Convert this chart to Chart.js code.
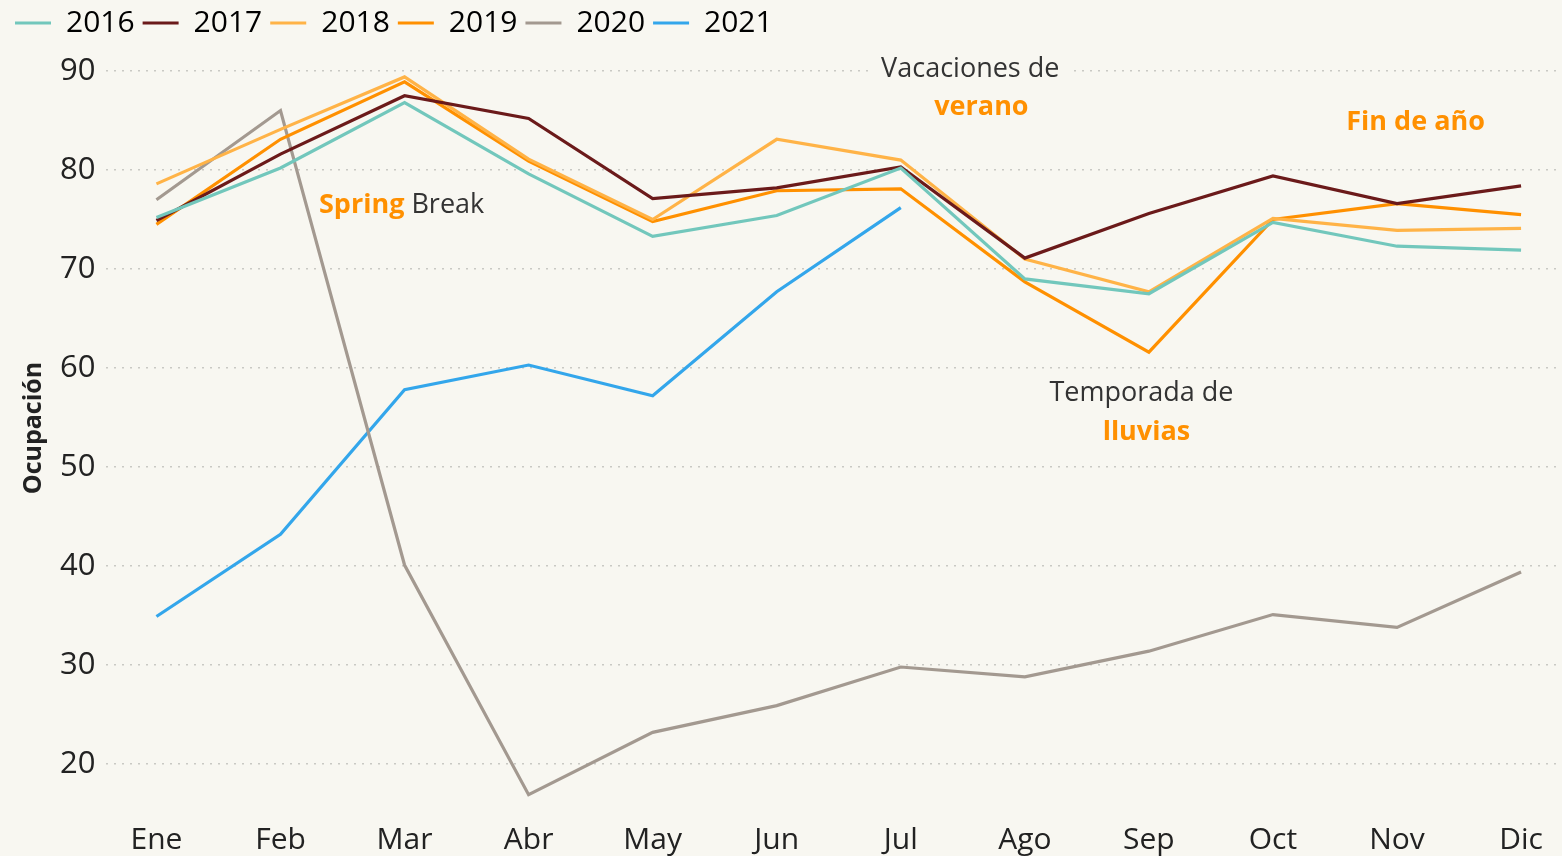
<!DOCTYPE html>
<html>
<head>
<meta charset="utf-8">
<script src="https://cdn.jsdelivr.net/npm/chart.js@4.4.1/dist/chart.umd.min.js"></script>
<style>
  html, body { margin: 0; padding: 0; background: #f8f7f1; }
  #wrap { width: 1562px; height: 856px; }
</style>
</head>
<body>
<div id="wrap"><canvas id="chart" width="1562" height="856"></canvas></div>
<script>
// data
const months = ["Ene", "Feb", "Mar", "Abr", "May", "Jun", "Jul", "Ago", "Sep", "Oct", "Nov", "Dic"];
const yTicks = [20, 30, 40, 50, 60, 70, 80, 90];

const y2016 = [75.2, 80.2, 86.8, 79.6, 73.3, 75.4, 80.2, 69.0, 67.5, 74.7, 72.3, 71.9];
const y2017 = [74.9, 81.6, 87.5, 85.2, 77.1, 78.2, 80.3, 71.1, 75.6, 79.4, 76.6, 78.4];
const y2018 = [78.6, 84.1, 89.4, 81.1, 75.0, 83.1, 81.0, 71.0, 67.7, 75.1, 73.9, 74.1];
const y2019 = [74.5, 83.1, 88.9, 80.9, 74.8, 77.9, 78.1, 68.7, 61.6, 75.0, 76.6, 75.5];
const y2020 = [77.0, 86.0, 40.1, 16.9, 23.2, 25.9, 29.8, 28.8, 31.4, 35.1, 33.8, 39.4];
const y2021 = [34.9, 43.2, 57.8, 60.3, 57.2, 67.7, 76.2];

const FONT = "'Open Sans', 'Noto Sans', sans-serif";
const ORANGE = "#ff9000";
const DARK = "#333333";

function series(label, vals, color) {
  return {
    label: label,
    data: vals.map((v, i) => ({ x: i, y: v })),
    borderColor: color,
    backgroundColor: color,
    borderWidth: 3.2,
    pointRadius: 0,
    tension: 0,
    clip: false
  };
}

// annotation texts, placed in data units
const notes = [
  { x: 6.56, y: 90.2, align: "center", parts: [["Vacaciones de", false, DARK]], box: true },
  { x: 6.65, y: 86.3, align: "center", parts: [["verano", true, ORANGE]] },
  { x: 10.15, y: 84.8, align: "center", parts: [["Fin de año", true, ORANGE]] },
  { x: 1.31, y: 76.4, align: "left", parts: [["Spring", true, ORANGE], [" Break", false, DARK]] },
  { x: 7.94, y: 57.4, align: "center", parts: [["Temporada de", false, DARK]], box: true },
  { x: 7.98, y: 53.5, align: "center", parts: [["lluvias", true, ORANGE]] }
];

const notesPlugin = {
  id: "notes",
  beforeDatasetsDraw(chart) {
    const ctx = chart.ctx;
    const xs = chart.scales.x, ys = chart.scales.y;
    ctx.save();
    ctx.textBaseline = "middle";
    notes.forEach(n => {
      let px = xs.getPixelForValue(n.x);
      let py = ys.getPixelForValue(n.y);
      let widths = n.parts.map(p => {
        ctx.font = (p[1] ? "bold " : "") + "27px " + FONT;
        return ctx.measureText(p[0]).width;
      });
      let total = widths.reduce((a, b) => a + b, 0);
      let left = n.align === "center" ? px - total / 2 : px;
      if (n.box) {
        ctx.fillStyle = "#f8f7f1";
        ctx.fillRect(left - 12, py - 20, total + 24, 40);
      }
      ctx.textAlign = "left";
      n.parts.forEach((p, i) => {
        ctx.font = (p[1] ? "bold " : "") + "27px " + FONT;
        ctx.fillStyle = p[2];
        ctx.fillText(p[0], left, py);
        left += widths[i];
      });
    });
    ctx.restore();
  }
};

new Chart(document.getElementById("chart"), {
  type: "line",
  data: {
    datasets: [
      series("2016", y2016, "#72c7bc"),
      series("2017", y2017, "#6b1a1a"),
      series("2018", y2018, "#ffb347"),
      series("2019", y2019, "#ff9000"),
      series("2020", y2020, "#a39990"),
      series("2021", y2021, "#33a6eb")
    ]
  },
  options: {
    responsive: false,
    animation: false,
    layout: { padding: { left: 7, right: 0, top: 0, bottom: 0 } },
    plugins: {
      tooltip: { enabled: false },
      legend: {
        position: "top",
        align: "start",
        labels: {
          boxWidth: 36,
          boxHeight: 3,
          padding: 8,
          color: "#3b1d16",
          font: { family: FONT, size: 30 },
          generateLabels(chart) {
            return chart.data.datasets.map((d, i) => ({
              text: d.label,
              fillStyle: d.borderColor,
              strokeStyle: d.borderColor,
              lineWidth: 0,
              hidden: false,
              datasetIndex: i
            }));
          }
        }
      }
    },
    scales: {
      x: {
        type: "linear",
        min: -0.403,
        max: 11.33,
        afterBuildTicks(scale) {
          scale.ticks = months.map((m, i) => ({ value: i }));
        },
        afterFit(scale) {
          scale.height -= 8;
        },
        ticks: {
          autoSkip: false,
          maxRotation: 0,
          color: "#222",
          font: { family: FONT, size: 30 },
          callback: (v) => months[v],
          padding: 6
        },
        grid: { display: false },
        border: { display: false }
      },
      y: {
        min: 15.56,
        max: 92.32,
        afterBuildTicks(scale) {
          scale.ticks = yTicks.map(v => ({ value: v }));
        },
        ticks: {
          color: "#222",
          font: { family: FONT, size: 31 },
          padding: 11
        },
        grid: {
          color: "#c9c9c4",
          lineWidth: 1.5,
          drawTicks: false
        },
        border: { display: false, dash: [2, 6] },
        title: {
          display: true,
          text: "Ocupación",
          color: "#222",
          font: { family: FONT, size: 25, weight: "bold" },
          padding: { top: 12, bottom: 0 }
        }
      }
    }
  },
  plugins: [notesPlugin]
});
</script>
</body>
</html>
